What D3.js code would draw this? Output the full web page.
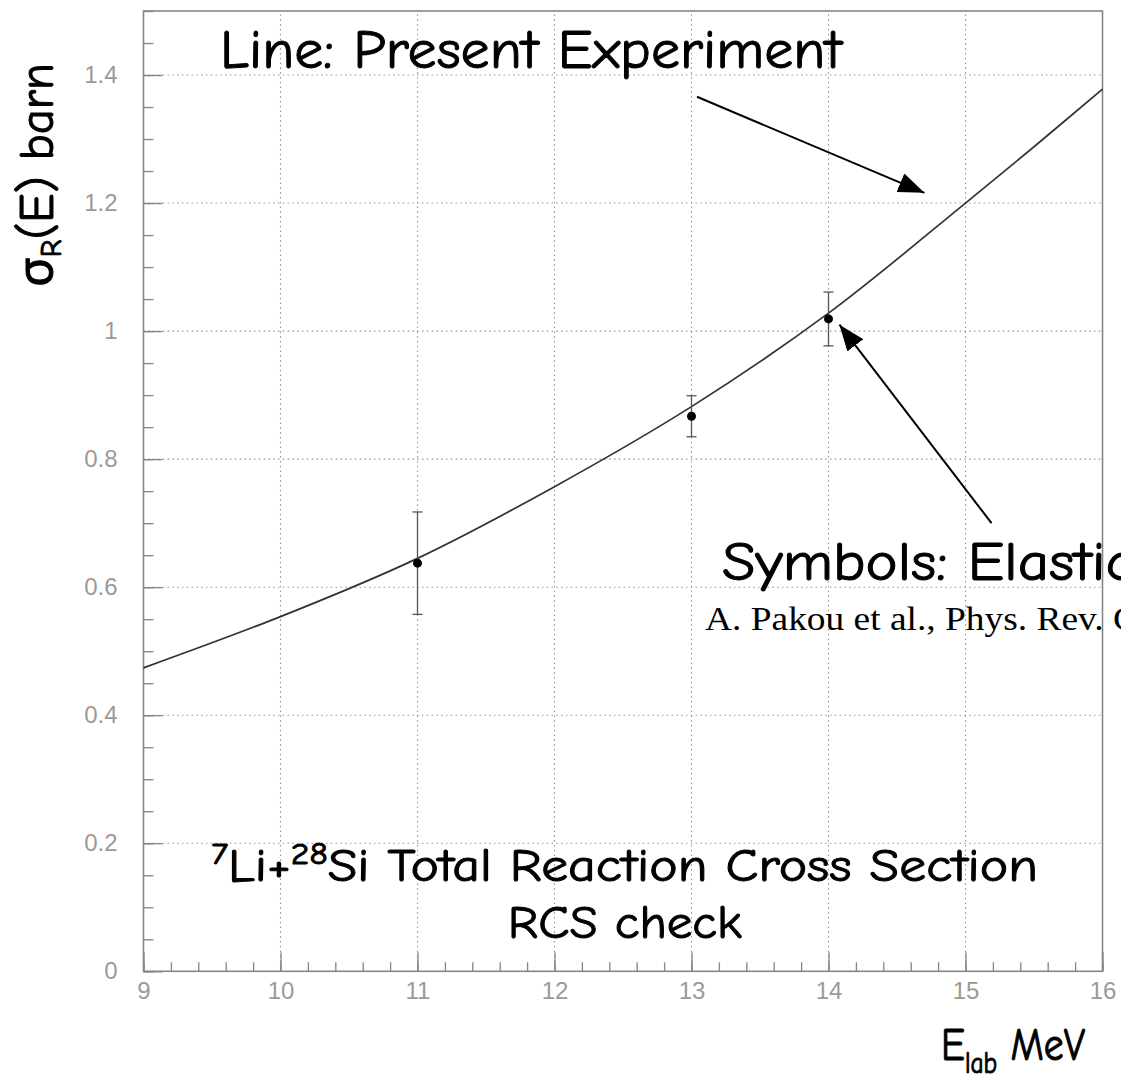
<!DOCTYPE html>
<html>
<head>
<meta charset="utf-8">
<script src="https://cdn.jsdelivr.net/npm/d3@7"></script>
<style>
  body { margin: 0; background: #fff; }
  svg { display: block; }
</style>
</head>
<body>
<svg id="chart" width="1121" height="1083"></svg>
<script>
// Axis ranges and tick labels
const xDomain = [9, 16];
const yDomain = [0, 1.5];
const xTicks = [9, 10, 11, 12, 13, 14, 15, 16];
const yTicks = [0, 0.2, 0.4, 0.6, 0.8, 1, 1.2, 1.4];

// Total reaction cross section from the present experiment (line)
const fitEnergy = [9, 10, 11, 12, 13, 14, 15, 15.5, 16];
const fitSigma  = [0.474, 0.554, 0.645, 0.757, 0.882, 1.028, 1.2, 1.288, 1.378];

// Elastic scattering values (symbols with error bars)
const elasticEnergy = [11, 13, 14];
const elasticSigma  = [0.6375, 0.867, 1.019];
const elasticErr    = [0.08, 0.032, 0.042];

const W = 1121, H = 1083;
const margin = { top: 11, right: 18.5, bottom: 111.7, left: 143.5 };
const svg = d3.select("#chart");

const x = d3.scaleLinear().domain(xDomain).range([margin.left, W - margin.right]);
const y = d3.scaleLinear().domain(yDomain).range([H - margin.bottom, margin.top]);

const handFont = "'Comic Sans MS', 'Comic Neue', 'Noto Sans', sans-serif";
const axisGrey = "#858585";

// dotted grid
const grid = svg.append("g").attr("stroke", "#9a9a9a").attr("stroke-width", 1.1)
  .attr("stroke-dasharray", "1.6,3.2");
grid.selectAll("line.h").data(yTicks.filter(d => d > 0)).join("line")
  .attr("x1", x(xDomain[0])).attr("x2", x(xDomain[1]))
  .attr("y1", d => y(d)).attr("y2", d => y(d));
grid.selectAll("line.v").data(xTicks.filter(d => d > xDomain[0] && d < xDomain[1])).join("line")
  .attr("y1", y(yDomain[0])).attr("y2", y(yDomain[1]))
  .attr("x1", d => x(d)).attr("x2", d => x(d));

// minor ticks
const xMinor = d3.range(xDomain[0], xDomain[1] + 1e-9, 0.2);
const yMinor = d3.range(yDomain[0], yDomain[1] + 1e-9, 0.05);
svg.append("g").attr("transform", `translate(0,${y(0)})`)
  .call(d3.axisBottom(x).tickValues(xMinor).tickSize(-9).tickFormat(""))
  .call(g => g.select(".domain").remove())
  .call(g => g.selectAll("line").attr("stroke", axisGrey).attr("stroke-width", 1.3));
svg.append("g").attr("transform", `translate(${x(xDomain[0])},0)`)
  .call(d3.axisLeft(y).tickValues(yMinor).tickSize(-10).tickFormat(""))
  .call(g => g.select(".domain").remove())
  .call(g => g.selectAll("line").attr("stroke", axisGrey).attr("stroke-width", 1.3));

// major ticks with labels
const tickFont = "'Liberation Sans', Arial, sans-serif";
svg.append("g").attr("transform", `translate(0,${y(0)})`)
  .call(d3.axisBottom(x).tickValues(xTicks).tickSize(-19).tickPadding(11).tickFormat(d3.format("d")))
  .call(g => g.select(".domain").remove())
  .call(g => g.selectAll("line").attr("stroke", axisGrey).attr("stroke-width", 1.3))
  .call(g => g.selectAll("text").attr("fill", "#9a9a9a")
    .attr("font-family", tickFont).attr("font-size", 24));
svg.append("g").attr("transform", `translate(${x(xDomain[0])},0)`)
  .call(d3.axisLeft(y).tickValues(yTicks).tickSize(-19).tickPadding(26).tickFormat(d => String(d)))
  .call(g => g.select(".domain").remove())
  .call(g => g.selectAll("line").attr("stroke", axisGrey).attr("stroke-width", 1.3))
  .call(g => g.selectAll("text").attr("fill", "#9a9a9a")
    .attr("font-family", tickFont).attr("font-size", 24));

// frame
svg.append("rect")
  .attr("x", x(xDomain[0])).attr("y", y(yDomain[1]))
  .attr("width", x(xDomain[1]) - x(xDomain[0])).attr("height", y(yDomain[0]) - y(yDomain[1]))
  .attr("fill", "none").attr("stroke", axisGrey).attr("stroke-width", 1.6);

// fitted line
const line = d3.line().x(d => x(d[0])).y(d => y(d[1])).curve(d3.curveCatmullRom.alpha(0.5));
svg.append("path")
  .datum(fitEnergy.map((e, i) => [e, fitSigma[i]]))
  .attr("d", line).attr("fill", "none").attr("stroke", "#333").attr("stroke-width", 1.7);

// elastic points with error bars
const pts = elasticEnergy.map((e, i) => ({ e, s: elasticSigma[i], err: elasticErr[i] }));
const eb = svg.append("g").attr("stroke", "#555").attr("stroke-width", 1.3);
eb.selectAll("line.bar").data(pts).join("line")
  .attr("x1", d => x(d.e)).attr("x2", d => x(d.e))
  .attr("y1", d => y(d.s - d.err)).attr("y2", d => y(d.s + d.err));
eb.selectAll("line.capHi").data(pts).join("line")
  .attr("x1", d => x(d.e) - 5).attr("x2", d => x(d.e) + 5)
  .attr("y1", d => y(d.s + d.err)).attr("y2", d => y(d.s + d.err));
eb.selectAll("line.capLo").data(pts).join("line")
  .attr("x1", d => x(d.e) - 5).attr("x2", d => x(d.e) + 5)
  .attr("y1", d => y(d.s - d.err)).attr("y2", d => y(d.s - d.err));
svg.append("g").selectAll("circle").data(pts).join("circle")
  .attr("cx", d => x(d.e)).attr("cy", d => y(d.s)).attr("r", 4.5).attr("fill", "#000");

// arrow heads
svg.append("defs").append("marker")
  .attr("id", "head").attr("markerUnits", "userSpaceOnUse")
  .attr("viewBox", "0 0 26 20").attr("refX", 26).attr("refY", 10)
  .attr("markerWidth", 26).attr("markerHeight", 20).attr("orient", "auto")
  .append("path").attr("d", "M0,0 L26,10 L0,20 Z").attr("fill", "#000");

const arrows = [
  { from: [13.04, 1.366], to: [14.70, 1.216] },
  { from: [15.19, 0.700], to: [14.08, 1.010] }
];
svg.append("g").selectAll("line").data(arrows).join("line")
  .attr("x1", d => x(d.from[0])).attr("y1", d => y(d.from[1]))
  .attr("x2", d => x(d.to[0])).attr("y2", d => y(d.to[1]))
  .attr("stroke", "#000").attr("stroke-width", 2).attr("marker-end", "url(#head)");

// stretch a text horizontally so that it spans the given width
function fitWidth(t, width, ax) {
  const w = t.node().getComputedTextLength();
  const s = width / w;
  t.attr("transform", `translate(${ax},0) scale(${s},1) translate(${-ax},0)`);
  return t;
}
function hand(xPos, yPos, size) {
  return svg.append("text").attr("x", xPos).attr("y", yPos)
    .attr("font-family", handFont).attr("font-weight", 400)
    .attr("stroke", "#000").attr("stroke-width", 1)
    .attr("font-size", size).attr("fill", "#000");
}

// annotations
fitWidth(hand(220, 68, 55).text("Line: Present Experiment"), 622, 220);
fitWidth(hand(722, 580, 55).text("Symbols: Elastic"), 413, 722);

svg.append("text").attr("x", 705).attr("y", 630)
  .attr("font-family", "'Liberation Serif', 'Times New Roman', serif")
  .attr("font-size", 33).attr("fill", "#000")
  .attr("textLength", 433).attr("lengthAdjust", "spacingAndGlyphs")
  .text("A. Pakou et al., Phys. Rev. C");

// reaction title
const title = hand(624.5, 881.5, 47).attr("text-anchor", "middle");
title.append("tspan").attr("font-size", 31).attr("dy", -17).text("7");
title.append("tspan").attr("dy", 17).text("Li+");
title.append("tspan").attr("font-size", 31).attr("dy", -17).text("28");
title.append("tspan").attr("dy", 17).text("Si Total Reaction Cross Section");
fitWidth(title, 827, 624.5);
fitWidth(hand(624.7, 938, 47).attr("text-anchor", "middle").text("RCS check"), 234, 624.7);

// y axis title
const yt = svg.append("g").attr("transform", "translate(53,287) rotate(-90)")
  .append("text").attr("x", 0).attr("y", 0)
  .attr("font-family", handFont).attr("font-weight", 400)
  .attr("stroke", "#000").attr("stroke-width", 1)
  .attr("font-size", 49).attr("fill", "#000");
yt.append("tspan").text("σ");
yt.append("tspan").attr("font-size", 30).attr("dy", 8).text("R");
yt.append("tspan").attr("dy", -8).text("(E) barn");
fitWidth(yt, 224, 0);

// x axis title
const xt = hand(941, 1060, 47);
xt.append("tspan").text("E");
xt.append("tspan").attr("font-size", 30).attr("dy", 13).text("lab");
xt.append("tspan").attr("dy", -13).text(" MeV");
fitWidth(xt, 144, 941);
</script>
</body>
</html>
